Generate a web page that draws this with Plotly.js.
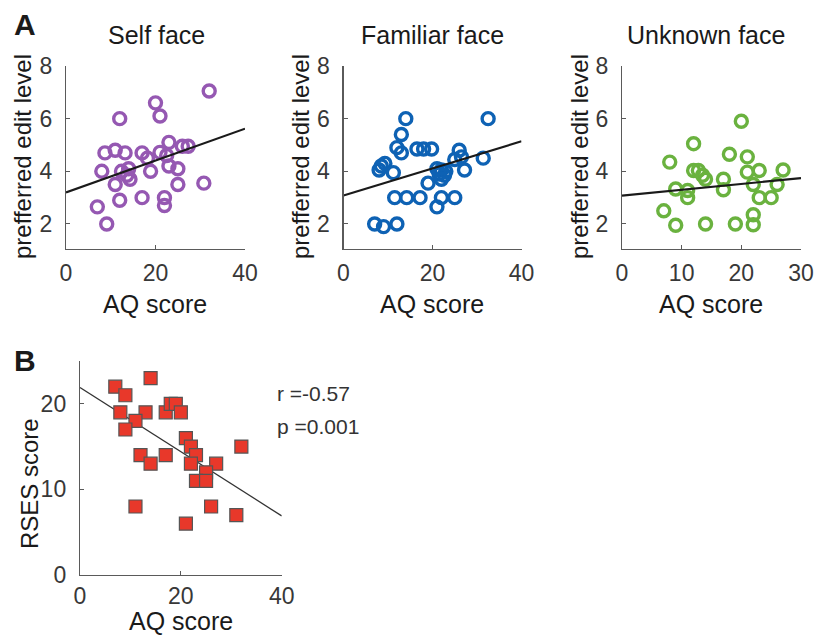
<!DOCTYPE html>
<html>
<head>
<meta charset="utf-8">
<script src="https://cdn.plot.ly/plotly-3.0.1.min.js"></script>
<style>html,body{margin:0;padding:0;background:#fff;}#chart{width:830px;height:637px;}</style>
</head>
<body>
<div id="chart"></div>
<script>
// ---------- data ----------
const panelTitles = ["Self face", "Familiar face", "Unknown face"];

const selfX = [32, 20, 21, 12, 23, 26, 27.3, 8.7, 11, 13.2, 17, 21, 22.5, 18.2, 8, 12.4, 14, 13.6, 14.3, 18.9, 23, 25, 11, 25, 30.8, 7, 12, 17, 22, 22, 9.1];
const selfY = [7.05, 6.6, 6.1, 6.0, 5.1, 4.95, 4.95, 4.7, 4.8, 4.7, 4.7, 4.72, 4.6, 4.5, 4.0, 4.0, 4.1, 3.85, 3.7, 4.0, 4.2, 4.1, 3.5, 3.5, 3.55, 2.65, 2.9, 3.0, 3.0, 2.7, 2.0];

const famX = [14, 32.5, 13, 12, 13, 16.5, 18, 19.8, 8, 8.5, 9.3, 11.2, 25, 26, 26.5, 27.2, 31.4, 21, 22, 23, 21.5, 22.7, 19, 22, 11.5, 14.2, 17.2, 22, 25, 21, 7, 9, 12];
const famY = [6.0, 6.0, 5.4, 4.9, 4.7, 4.85, 4.85, 4.85, 4.05, 4.2, 4.3, 3.95, 4.45, 4.8, 4.55, 4.05, 4.5, 4.1, 4.05, 4.0, 3.9, 3.85, 3.55, 3.7, 3.0, 3.0, 3.0, 3.0, 3.0, 2.65, 2.0, 1.9, 2.0];

const unkX = [20, 12, 8, 18, 21, 12, 12.8, 21, 23, 27, 9, 11, 11, 14, 17, 17, 22, 26, 23, 25, 7, 9, 14, 19, 22, 22, 13.5];
const unkY = [5.9, 5.05, 4.35, 4.65, 4.55, 4.03, 4.03, 3.97, 4.03, 4.05, 3.33, 3.27, 3.0, 3.7, 3.7, 3.3, 3.5, 3.5, 3.0, 3.0, 2.5, 1.95, 2.0, 2.0, 2.35, 1.97, 3.85];

const selfFitX = [0, 40], selfFitY = [3.2, 5.62];
const famFitX = [0, 40], famFitY = [3.08, 5.14];
const unkFitX = [0, 30], unkFitY = [3.08, 3.74];

const rsesX = [7, 9, 14, 8, 13, 11, 9, 17, 18, 19, 20, 12, 14, 17, 21, 22, 23, 22, 27, 25, 23, 25, 32, 11, 26, 31, 21];
const rsesY = [22, 21, 23, 19, 19, 18, 17, 19, 20, 20, 19, 14, 13, 14, 16, 15, 14, 13, 13, 12, 11, 11, 15, 8, 8, 7, 6];
const rsesFitX = [0, 40], rsesFitY = [21.9, 6.9];
const statsText = ["r =-0.57", "p =0.001"];

const xTicksA = [0, 20, 40], xTicksU = [0, 10, 20, 30];
const yTicksA = [2, 4, 6, 8];
const xTicksB = [0, 20, 40], yTicksB = [0, 10, 20];

// ---------- styling ----------
const W = 830, H = 637;
const FONT = "Liberation Sans, Arial, Helvetica, sans-serif";
const px = v => v / W, py = v => 1 - v / H;

const purple = "#9558B2", blue = "#0E62B4", green = "#6AB23F", red = "#E8382A";

function axisBase(extra) {
  return Object.assign({
    showline: true, linecolor: "#5a5a5a", linewidth: 1.2,
    ticks: "inside", ticklen: 4, tickcolor: "#5a5a5a", tickwidth: 1,
    showgrid: false, zeroline: false, mirror: false,
    tickfont: {family: FONT, size: 23, color: "#383838"},
    fixedrange: true
  }, extra);
}

function ringTrace(x, y, color, xa, ya) {
  return {x, y, xaxis: xa, yaxis: ya, type: "scatter", mode: "markers",
    marker: {symbol: "circle-open", size: 12, color: color, line: {width: 3.4, color: color}},
    hoverinfo: "x+y", showlegend: false};
}
function fitTrace(x, y, xa, ya, w, c) {
  return {x, y, xaxis: xa, yaxis: ya, type: "scatter", mode: "lines",
    line: {color: c, width: w}, hoverinfo: "skip", showlegend: false};
}

const traces = [
  ringTrace(selfX, selfY, purple, "x", "y"),
  fitTrace(selfFitX, selfFitY, "x", "y", 2.2, "#1a1a1a"),
  ringTrace(famX, famY, blue, "x2", "y2"),
  fitTrace(famFitX, famFitY, "x2", "y2", 2.2, "#1a1a1a"),
  ringTrace(unkX, unkY, green, "x3", "y3"),
  fitTrace(unkFitX, unkFitY, "x3", "y3", 2.2, "#1a1a1a"),
  fitTrace(rsesFitX, rsesFitY, "x4", "y4", 1.3, "#333"),
  {x: rsesX, y: rsesY, xaxis: "x4", yaxis: "y4", type: "scatter", mode: "markers",
    marker: {symbol: "square", size: 13, color: red, line: {width: 1.2, color: "#555"}},
    hoverinfo: "x+y", showlegend: false}
];

const topDomY = [py(249), py(66)];
const layout = {
  width: W, height: H,
  margin: {l: 0, r: 0, t: 0, b: 0},
  paper_bgcolor: "#fff", plot_bgcolor: "rgba(0,0,0,0)",
  font: {family: FONT, color: "#222"},
  showlegend: false,
  xaxis: axisBase({domain: [px(66), px(245)], range: [0, 40], tickvals: xTicksA, anchor: "y", ticklabelstandoff: 3}),
  yaxis: axisBase({domain: topDomY, range: [1.05, 8], tickvals: yTicksA, anchor: "x", ticklabelstandoff: 8}),
  xaxis2: axisBase({domain: [px(343.5), px(521.5)], range: [0, 40], tickvals: xTicksA, anchor: "y2", ticklabelstandoff: 3}),
  yaxis2: axisBase({domain: topDomY, range: [1.05, 8], tickvals: yTicksA, anchor: "x2", ticklabelstandoff: 8}),
  xaxis3: axisBase({domain: [px(622), px(801)], range: [0, 30], tickvals: xTicksU, anchor: "y3", ticklabelstandoff: 3}),
  yaxis3: axisBase({domain: topDomY, range: [1.05, 8], tickvals: yTicksA, anchor: "x3", ticklabelstandoff: 8}),
  xaxis4: axisBase({domain: [px(80), px(281.7)], range: [0, 40], tickvals: xTicksB, anchor: "y4", ticklabelstandoff: 0}),
  yaxis4: axisBase({domain: [py(575), py(361)], range: [0, 25], tickvals: yTicksB, anchor: "x4", ticklabelstandoff: 8}),
  annotations: []
};

function ann(text, x, y, size, opts) {
  layout.annotations.push(Object.assign({
    text, x: px(x), y: py(y), xref: "paper", yref: "paper",
    xanchor: "center", yanchor: "middle", showarrow: false,
    font: {family: FONT, size: size, color: "#1a1a1a"}
  }, opts || {}));
}

// panel letters
ann("<b>A</b>", 25, 24, 30);
ann("<b>B</b>", 25, 360, 30);
// titles
ann(panelTitles[0], 156, 35, 25);
ann(panelTitles[1], 432, 35, 25);
ann(panelTitles[2], 706, 35, 25);
// x titles
[155, 432, 711].forEach(cx => ann("AQ score", cx, 304, 25));
ann("AQ score", 181, 621, 25);
// y titles
[23, 301, 580].forEach(cx => ann("prefferred edit level", cx, 157, 24, {textangle: -90}));
ann("RSES score", 29, 484, 24, {textangle: -90});
// stats
ann(statsText[0], 275, 393, 21, {xanchor: "left", font: {family: FONT, size: 21, color: "#333"}});
ann(statsText[1], 275, 427, 21, {xanchor: "left", font: {family: FONT, size: 21, color: "#333"}});

Plotly.newPlot("chart", traces, layout, {displayModeBar: false, staticPlot: true});
</script>
</body>
</html>
